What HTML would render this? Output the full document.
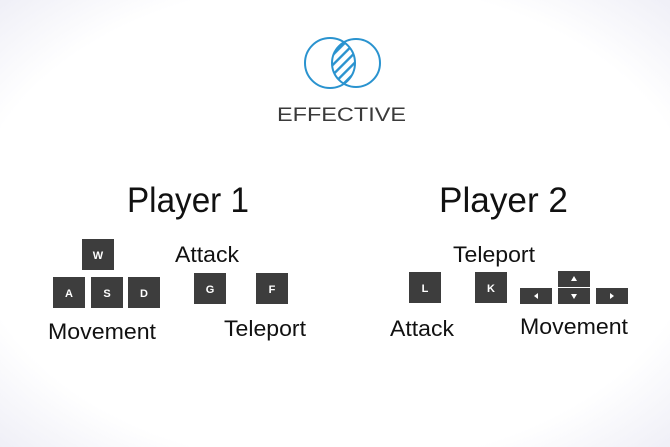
<!DOCTYPE html>
<html><head><meta charset="utf-8"><style>
html,body{margin:0;padding:0;width:670px;height:447px;overflow:hidden;background:#fff}
</style></head><body>
<svg width="670" height="447" viewBox="0 0 670 447" xmlns="http://www.w3.org/2000/svg" font-family="Liberation Sans, sans-serif">
<defs>
<radialGradient id="bg" cx="50%" cy="50%" r="72%">
<stop offset="0.75" stop-color="#ffffff"/>
<stop offset="1" stop-color="#eeeef6"/>
</radialGradient>
<clipPath id="lens"><circle cx="330" cy="63" r="25"/></clipPath>
<pattern id="hatch" width="7" height="7" patternUnits="userSpaceOnUse" patternTransform="rotate(-45)">
<rect width="7" height="2.4" fill="#2a93cf"/>
</pattern>
</defs>
<rect width="670" height="447" fill="url(#bg)"/>
<g clip-path="url(#lens)"><circle cx="356" cy="63" r="24" fill="url(#hatch)"/></g>
<circle cx="330" cy="63" r="25" fill="none" stroke="#2a93cf" stroke-width="2"/>
<circle cx="356" cy="63" r="24" fill="none" stroke="#2a93cf" stroke-width="2"/>
<text x="277" y="121" font-size="19" fill="#3a3a3a" textLength="129" lengthAdjust="spacingAndGlyphs">EFFECTIVE</text>
<text x="127" y="212" font-size="35" fill="#111" textLength="122" lengthAdjust="spacingAndGlyphs">Player 1</text>
<text x="439" y="212" font-size="35" fill="#111" textLength="129" lengthAdjust="spacingAndGlyphs">Player 2</text>
<g fill="#3d3d3d">
<rect x="82" y="239" width="32" height="31"/>
<rect x="53" y="277" width="32" height="31"/>
<rect x="91" y="277" width="32" height="31"/>
<rect x="128" y="277" width="32" height="31"/>
<rect x="194" y="273" width="32" height="31"/>
<rect x="256" y="273" width="32" height="31"/>
<rect x="409" y="272" width="32" height="31"/>
<rect x="475" y="272" width="32" height="31"/>
<rect x="558" y="271" width="32" height="16"/>
<rect x="558" y="288" width="32" height="16"/>
<rect x="520" y="288" width="32" height="16"/>
<rect x="596" y="288" width="32" height="16"/>
</g>
<g fill="#fff" font-size="11" font-weight="bold" text-anchor="middle">
<text x="98" y="259">W</text>
<text x="69" y="297">A</text>
<text x="107" y="297">S</text>
<text x="144" y="297">D</text>
<text x="210" y="293">G</text>
<text x="272" y="293">F</text>
<text x="425" y="292">L</text>
<text x="491" y="292">K</text>
</g>
<g fill="#fff">
<polygon points="574,276 577,281 571,281"/>
<polygon points="571,294 577,294 574,299"/>
<polygon points="534,296 538,293 538,299"/>
<polygon points="614,296 610,293 610,299"/>
</g>
<g fill="#111" font-size="22">
<text x="175" y="262" textLength="64" lengthAdjust="spacingAndGlyphs">Attack</text>
<text x="48" y="339" textLength="108" lengthAdjust="spacingAndGlyphs">Movement</text>
<text x="224" y="336" textLength="82" lengthAdjust="spacingAndGlyphs">Teleport</text>
<text x="453" y="262" textLength="82" lengthAdjust="spacingAndGlyphs">Teleport</text>
<text x="390" y="336" textLength="64" lengthAdjust="spacingAndGlyphs">Attack</text>
<text x="520" y="334" textLength="108" lengthAdjust="spacingAndGlyphs">Movement</text>
</g>
</svg>
</body></html>
